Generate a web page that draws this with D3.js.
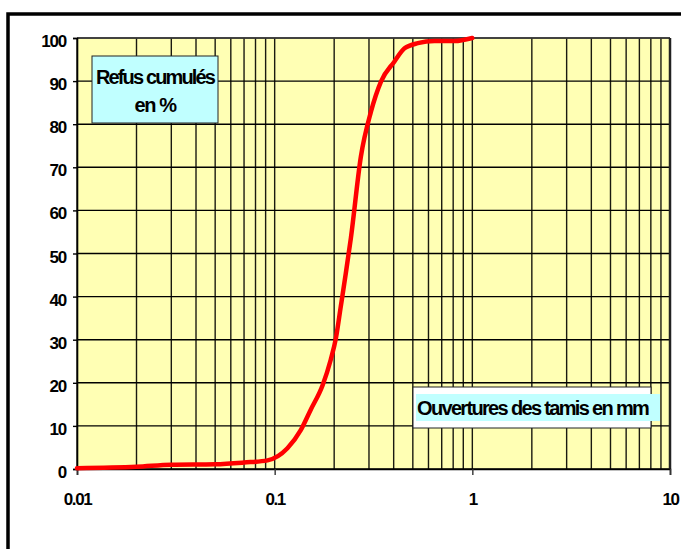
<!DOCTYPE html>
<html>
<head>
<meta charset="utf-8">
<script src="https://cdn.jsdelivr.net/npm/d3@7"></script>
<style>
  body { margin: 0; background: #fff; }
  text { font-family: "Liberation Sans", Arial, sans-serif; font-weight: bold; fill: #000; }
</style>
</head>
<body>
<svg id="chart" width="681" height="549"></svg>
<script>
// ouvertures des tamis (mm) et refus cumulés (%)
const sieves = [0.01, 0.02, 0.03, 0.05, 0.07, 0.092, 0.116, 0.1355, 0.152, 0.175, 0.192, 0.204,
    0.216, 0.229, 0.243, 0.273, 0.307, 0.345, 0.403, 0.454, 0.53, 0.644, 0.813, 1];
const refus = [0.2, 0.5, 1, 1.1, 1.5, 2, 4.8, 9, 13.7, 19.5, 25.3, 30.3,
    37.7, 45.4, 53.6, 72.5, 82.9, 89.9, 94.5, 97.6, 98.8, 99.3, 99.3, 100];

const yTicks = [0, 10, 20, 30, 40, 50, 60, 70, 80, 90, 100];
const xMajor = [0.01, 0.1, 1, 10];
const xLabels = ['0.01', '0.1', '1', '10'];

const svg = d3.select('#chart');

const x = d3.scaleLog().domain([0.01, 10]).range([77, 670]);
const y = d3.scaleLinear().domain([0, 100]).range([469, 38]);

// cadre extérieur
svg.append('rect')
    .attr('x', 8).attr('y', 14).attr('width', 700).attr('height', 560)
    .attr('fill', 'none').attr('stroke', '#000').attr('stroke-width', 3.5);

// zone de tracé
svg.append('rect')
    .attr('x', x(0.01)).attr('y', y(100))
    .attr('width', x(10) - x(0.01)).attr('height', y(0) - y(100))
    .attr('fill', '#ffffb4');

// grille verticale (échelle log, 1..9 par décade)
const minor = [];
[0.01, 0.1, 1].forEach(d => d3.range(1, 10).forEach(k => minor.push(d * k)));
minor.push(10);

svg.append('g').selectAll('line')
    .data(minor)
    .enter().append('line')
    .attr('x1', d => x(d)).attr('x2', d => x(d))
    .attr('y1', y(100)).attr('y2', y(0))
    .attr('stroke', '#1a1a10').attr('stroke-width', 1.4);

svg.append('g').selectAll('line')
    .data(yTicks)
    .enter().append('line')
    .attr('x1', x(0.01)).attr('x2', x(10))
    .attr('y1', d => y(d)).attr('y2', d => y(d))
    .attr('stroke', '#000').attr('stroke-width', 1.4);

// bord de la zone
svg.append('line')
    .attr('x1', x(0.01)).attr('x2', x(10)).attr('y1', y(100)).attr('y2', y(100))
    .attr('stroke', '#444').attr('stroke-width', 1.5);
svg.append('line')
    .attr('x1', x(10)).attr('x2', x(10)).attr('y1', y(100)).attr('y2', y(0))
    .attr('stroke', '#222').attr('stroke-width', 2.5);

// axes
const yAxis = svg.append('g')
    .attr('transform', `translate(${x(0.01)},0)`)
    .call(d3.axisLeft(y).tickValues(yTicks).tickSize(4).tickPadding(7));
yAxis.select('.domain').attr('stroke-width', 1.6);
yAxis.selectAll('.tick line').attr('stroke-width', 1.4);
yAxis.selectAll('text')
    .attr('font-size', 17).attr('letter-spacing', -1.2)
    .attr('font-family', '"Liberation Sans", Arial, sans-serif')
    .attr('font-weight', 'bold').attr('dy', '0.5em');

const xAxis = svg.append('g')
    .attr('transform', `translate(0,${y(0)})`)
    .call(d3.axisBottom(x).tickValues(xMajor).tickFormat((d, i) => xLabels[i])
        .tickSize(6).tickPadding(18));
xAxis.select('.domain').attr('stroke-width', 1.6);
xAxis.selectAll('.tick line').attr('stroke', '#333').attr('stroke-width', 1.4);
xAxis.selectAll('text')
    .attr('font-size', 17).attr('letter-spacing', -1.4)
    .attr('font-family', '"Liberation Sans", Arial, sans-serif')
    .attr('font-weight', 'bold');

// courbe granulométrique
const pts = sieves.map((s, i) => [s, refus[i]]);
svg.append('path')
    .datum(pts)
    .attr('d', d3.line().curve(d3.curveMonotoneX).x(d => x(d[0])).y(d => y(d[1])))
    .attr('fill', 'none').attr('stroke', '#ff0000')
    .attr('stroke-width', 4.5).attr('stroke-linejoin', 'round').attr('stroke-linecap', 'round');

// étiquette axe Y
svg.append('rect')
    .attr('x', 92).attr('y', 56).attr('width', 126).attr('height', 67)
    .attr('fill', '#c0ffff').attr('stroke', '#222').attr('stroke-width', 1);
svg.append('text').attr('x', 155).attr('y', 84).attr('text-anchor', 'middle')
    .attr('font-size', 20).attr('letter-spacing', -1.85)
    .text('Refus cumulés');
svg.append('text').attr('x', 155).attr('y', 112).attr('text-anchor', 'middle')
    .attr('font-size', 20).attr('letter-spacing', -1.4)
    .text('en %');

// étiquette axe X
svg.append('rect')
    .attr('x', 413).attr('y', 387).attr('width', 238).attr('height', 41)
    .attr('fill', '#fff').attr('stroke', '#222').attr('stroke-width', 1);
svg.append('rect')
    .attr('x', 416).attr('y', 394).attr('width', 244).attr('height', 27)
    .attr('fill', '#c0ffff');
svg.append('text').attr('x', 417).attr('y', 415)
    .attr('font-size', 20).attr('letter-spacing', -1.67)
    .text('Ouvertures des tamis en mm');
</script>
</body>
</html>
